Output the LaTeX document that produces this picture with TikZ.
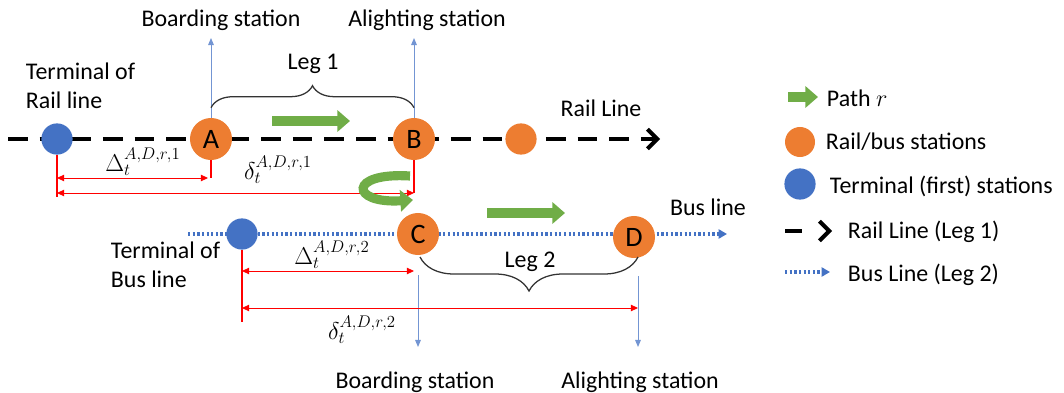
\documentclass[tikz,border=0pt]{standalone}
\usepackage{fontspec}
\setmainfont{Carlito}
\usetikzlibrary{arrows.meta,calc,decorations.pathreplacing}
\definecolor{stnorange}{HTML}{ED7D31}
\definecolor{termblue}{HTML}{4472C4}
\definecolor{pathgreen}{HTML}{70AD47}
\tikzset{
  station/.style={circle, fill=stnorange, minimum size=1.05cm, inner sep=0pt, font=\fontsize{20}{24}\selectfont},
  terminal/.style={circle, fill=termblue, minimum size=0.78cm, inner sep=0pt},
  railline/.style={line width=2.8pt, dash pattern=on 14pt off 8.5pt, -{Straight Barb[length=7pt,width=14pt]}},
  busline/.style={termblue, line width=2.3pt, dash pattern=on 1.6pt off 1.7pt, -{Triangle[length=6pt,width=6.5pt]}},
  patharrow/.style={pathgreen, line width=6.5pt, -{Triangle[length=9pt,width=15pt]}},
  bluearrow/.style={termblue!75, line width=0.7pt, -{Triangle[length=5pt,width=4pt]}},
  redtick/.style={red, line width=1.3pt},
  reddim/.style={red, line width=0.6pt, {Triangle[length=5pt,width=4.5pt]}-{Triangle[length=5pt,width=4.5pt]}},
  legbrace/.style={decorate, black!80, line width=0.9pt}
}
\begin{document}
\begin{tikzpicture}[x=0.025cm, y=-0.025cm, every node/.style={font=\fontsize{17}{21}\selectfont}]
\useasboundingbox (0,0) rectangle (1064,393);
% rail and bus lines
\coordinate (railstart) at (8,139);
\coordinate (railend) at (660,139);
\coordinate (busstart) at (188,234);
\coordinate (busend) at (727,234);
\draw[railline] (railstart) -- (railend);
\draw[busline] (busstart) -- (busend);
% stations
\node[terminal] (trail) at (57,139) {};
\node[station] (A) at (211,139) {A};
\node[station] (B) at (414,139) {B};
\node[station, minimum size=0.78cm] (E) at (521,139) {};
\node[terminal] (tbus) at (242,234) {};
\node[station] (C) at (418,234) {C};
\node[station] (D) at (634,237) {D};
% labels
\node (boardA) at (221,20) {Boarding station};
\node (alightB) at (427,20) {Alighting station};
\node (legone) at (313,64) {Leg 1};
\node[align=left, anchor=west] (termrail) at (21,86) {Terminal of\\Rail line};
\node (railtxt) at (601,108) {Rail Line};
\node[align=left, anchor=west] (termbus) at (106,265) {Terminal of\\Bus line};
\node (bustxt) at (708,207) {Bus line};
\node (legtwo) at (530,262) {Leg 2};
\node (boardC) at (415,382) {Boarding station};
\node (alightD) at (640,382) {Alighting station};
\node (dA1) at (143,162) {$\Delta_t^{A,D,r,1}$};
\node (dd1) at (278,170) {$\delta_t^{A,D,r,1}$};
\node (dA2) at (332,255) {$\Delta_t^{A,D,r,2}$};
\node (dd2) at (362,330) {$\delta_t^{A,D,r,2}$};
% boarding / alighting arrows
\coordinate (uptip) at (0,38);
\coordinate (downtip) at (0,347);
\draw[bluearrow] (A.north) -- (A |- uptip);
\draw[bluearrow] (B.north) -- (B |- uptip);
\draw[bluearrow] ($(C.south)+(0,20)$) -- (C |- downtip);
\draw[bluearrow] ($(D.south)+(4,18)$) -- ($(D |- downtip)+(4,0)$);
% legs
\draw[legbrace, decoration={brace, amplitude=0.55cm}] ($(A.north)+(0,-10)$) -- ($(B.north)+(0,-10)$);
\coordinate (legtwoy) at (0,257);
\draw[legbrace, decoration={brace, amplitude=0.85cm}] ($(D |- legtwoy)+(4,0)$) -- ($(C |- legtwoy)+(2,0)$);
% time distances
\coordinate (dimone) at (0,178);
\coordinate (dimtwo) at (0,193);
\coordinate (tickone) at (0,197);
\draw[redtick] (trail.south) -- (trail |- tickone);
\draw[redtick] (A.south) -- (A |- dimone);
\draw[redtick] (B.south) -- (B |- dimtwo);
\draw[reddim] (trail |- dimone) -- ($(A |- dimone)+(-3,0)$);
\draw[reddim] (trail |- dimtwo) -- (B |- dimtwo);
\coordinate (dimthree) at (0,271);
\coordinate (dimfour) at (0,308);
\coordinate (ticktwo) at (0,322);
\draw[redtick] (tbus.south) -- (tbus |- ticktwo);
\draw[reddim] (tbus |- dimthree) -- ($(C |- dimthree)+(-4,0)$);
\draw[reddim] (tbus |- dimfour) -- ($(D |- dimfour)+(4,0)$);
% path r
\coordinate (legonefrom) at (272,121);
\coordinate (legoneto) at (350,121);
\coordinate (legtwofrom) at (487,213);
\coordinate (legtwoto) at (565,213);
\draw[patharrow] (legonefrom) -- (legoneto);
\draw[patharrow] (legtwofrom) -- (legtwoto);
\draw[patharrow] (410,176) .. controls (348,172) and (350,204) .. (413,200);
% legend
\coordinate (lgpathfrom) at (788,97);
\coordinate (lgpathto) at (818,97);
\draw[patharrow] (lgpathfrom) -- (lgpathto);
\node[anchor=west] (lgpath) at (822,98) {Path $r$};
\node[station, minimum size=0.75cm] (lgstn) at (800,142) {};
\node[anchor=west] (lgstntxt) at (821,142) {Rail/bus stations};
\node[terminal] (lgterm) at (800,184) {};
\node[anchor=west] (lgtermtxt) at (825,186) {Terminal (first) stations};
\coordinate (lgrailfrom) at (785,231);
\coordinate (lgrailto) at (832,231);
\draw[railline, dash pattern=on 12pt off 30pt] (lgrailfrom) -- (lgrailto);
\node[anchor=west] (lgrail) at (843,232) {Rail Line (Leg 1)};
\coordinate (lgbusfrom) at (785,272);
\coordinate (lgbusto) at (830,272);
\draw[busline] (lgbusfrom) -- (lgbusto);
\node[anchor=west] (lgbus) at (843,275) {Bus Line (Leg 2)};
\end{tikzpicture}
\end{document}
